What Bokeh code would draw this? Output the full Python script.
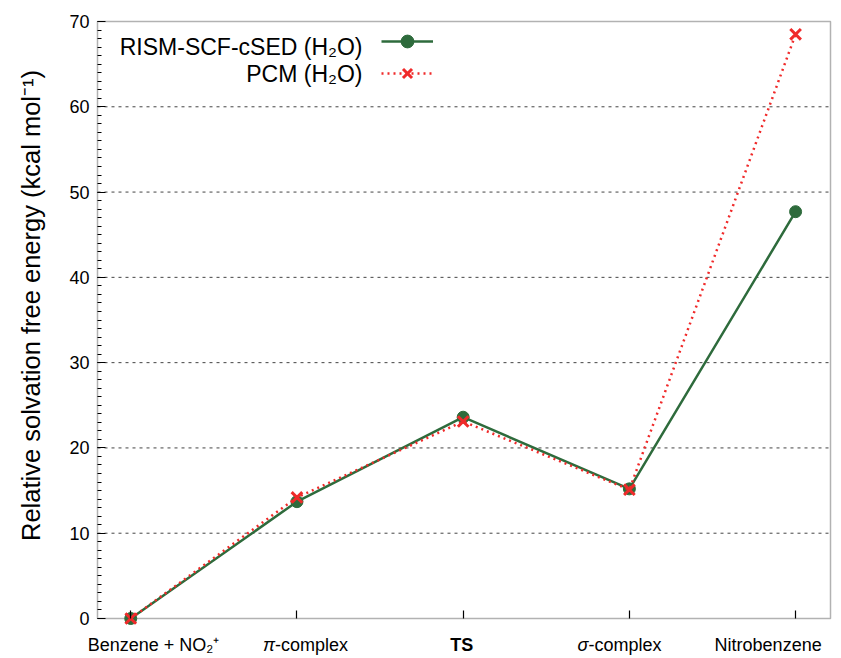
import math
from bokeh.plotting import figure
from bokeh.models import (Range1d, FixedTicker, Label, Legend, LegendItem,
                          BoxAnnotation)
from bokeh.core.properties import value
from bokeh.embed import file_html
from bokeh.resources import INLINE

# ---- data ----
positions = [0, 1, 2, 3, 4]
rism = [0.0, 13.7, 23.6, 15.2, 47.7]
pcm = [0.0, 14.2, 23.1, 15.1, 68.5]
series_names = ["RISM-SCF-cSED (H\u2082O)", "PCM (H\u2082O)"]
label_prefix = ["", "\u03c0", "", "\u03c3", ""]
label_main = ["Benzene + NO\u2082\u207a", "-complex", "TS", "-complex", "Nitrobenzene"]
label_bold = [False, False, True, False, False]
y_ticks = [0, 10, 20, 30, 40, 50, 60, 70]
grid_ticks = [10, 20, 30, 40, 50, 60]
y_title = "Relative solvation free energy (kcal mol\u207b\u00b9)"

# ---- style / layout (pixels) ----
FONT = "Liberation Sans"
GREEN = "#2e6b3c"
RED = "#f02a2a"
label_left_offsets = [-43, -22, -13, -41, -81]
W, H = 838, 656
FL, FR, FT, FB = 97, 830, 21, 618      # data box on the canvas
X0, X1, Y0, Y1 = -0.2, 4.21, 0, 70
per_x = (X1 - X0) / (FR - FL)
per_y = (Y1 - Y0) / (FB - FT)

# the frame covers the whole canvas; the data box is drawn inside it
p = figure(width=W, height=H, output_backend="svg", toolbar_location=None,
           x_range=Range1d(X0 - FL * per_x, X1 + (W - FR) * per_x),
           y_range=Range1d(Y0 - (H - FB) * per_y, Y1 + FT * per_y),
           min_border=0)
p.outline_line_color = None
p.background_fill_color = "white"
p.border_fill_color = "white"
p.grid.grid_line_color = None

# horizontal grid lines limited to the data box
p.segment(x0=[X0] * len(grid_ticks), y0=grid_ticks,
          x1=[X1] * len(grid_ticks), y1=grid_ticks,
          line_color="#444444", line_dash="3 4", line_width=1)

box = BoxAnnotation(left=X0, right=X1, bottom=Y0, top=Y1, fill_alpha=0,
                    line_color="black", line_width=1.5, level="underlay")
p.add_layout(box)

# axes fixed on the box edges
p.xaxis.fixed_location = Y0
p.xaxis.ticker = FixedTicker(ticks=positions)
p.xaxis.major_label_overrides = {i: "" for i in positions}
p.xaxis.major_label_text_font_size = "1px"
p.xaxis.major_tick_in = 8
p.xaxis.major_tick_out = 0
p.xaxis.minor_tick_line_color = None
p.xaxis.axis_line_color = None
p.xaxis.major_tick_line_width = 1.2

p.yaxis.fixed_location = X0
p.yaxis.ticker = FixedTicker(ticks=y_ticks, minor_ticks=list(range(0, 71)))
p.yaxis.major_tick_in = 8
p.yaxis.major_tick_out = 0
p.yaxis.minor_tick_in = 4
p.yaxis.minor_tick_out = 0
p.yaxis.axis_line_color = None
p.yaxis.major_tick_line_width = 1.2
p.yaxis.minor_tick_line_width = 1.0
p.yaxis.major_label_text_font = FONT
p.yaxis.major_label_text_font_size = "18px"
p.yaxis.major_label_text_color = "black"
p.yaxis.major_label_standoff = 8

# y title
p.text([X0 - (FL - 30) * per_x], [(FB - 305) * per_y], text=[y_title],
       angle=math.pi / 2, text_font=value(FONT), text_font_size="25.5px",
       text_align="center", text_baseline="middle", text_color="black")

# data
l1 = p.line(positions, rism, line_color=GREEN, line_width=2.5)
s1 = p.scatter(positions, rism, marker="circle", size=12, fill_color=GREEN,
               line_color=GREEN)
l2 = p.line(positions, pcm, line_color=RED, line_width=2.5, line_dash="2 4")
s2 = p.scatter(positions, pcm, marker="x", size=15, line_color=RED, line_width=3)

# legend (glyphs via Legend, texts to the left)
legend = Legend(items=[LegendItem(label=value(""), renderers=[l1, s1]),
                       LegendItem(label=value(""), renderers=[l2, s2])],
                location=(381, H - 30 - 59), glyph_width=52, glyph_height=32,
                label_width=0, label_standoff=0, label_height=20,
                label_text_font_size="1px", spacing=-5, padding=0, margin=0,
                border_line_color=None, background_fill_alpha=0)
p.add_layout(legend, "center")

legend_y = [H - 46, H - 73]
for name, yy in zip(series_names, legend_y):
    p.add_layout(Label(x=362, y=yy, x_units="screen", y_units="screen",
                       text=name, text_font=FONT, text_font_size="23px",
                       text_align="right", text_baseline="middle",
                       text_color="black"))

# category labels
y_lab = Y0 - (644 - FB) * per_y
for pos, pre, main, bold, off in zip(positions, label_prefix, label_main,
                                      label_bold, label_left_offsets):
    if pre:
        p.text([pos], [y_lab], text=[pre], x_offset=off,
               text_font=value(FONT), text_font_size="18px",
               text_font_style="italic", text_align="right",
               text_baseline="middle", text_color="black")
    p.text([pos], [y_lab], text=[main], x_offset=off,
           text_font=value(FONT), text_font_size="18px",
           text_font_style="bold" if bold else "normal",
           text_align="left", text_baseline="middle", text_color="black")

open("out.html", "w").write(file_html(p, INLINE))
